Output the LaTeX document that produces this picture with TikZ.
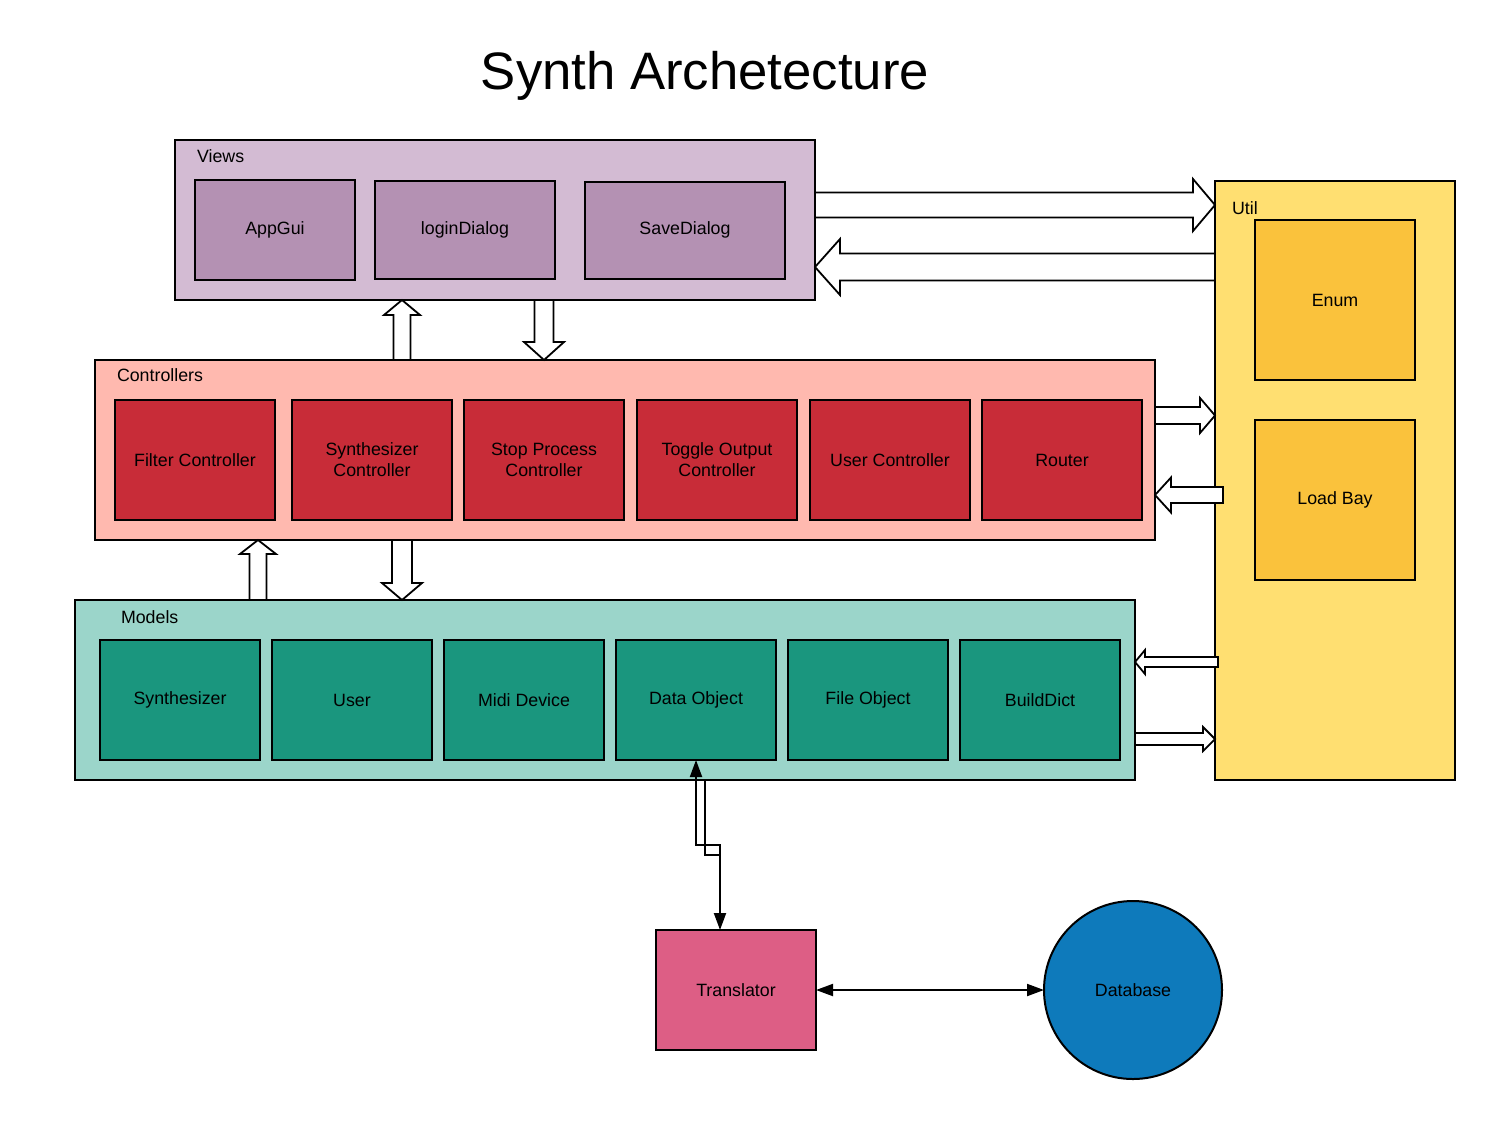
\documentclass[tikz,border=0pt]{standalone}
\usepackage{fontspec}
\setmainfont{Liberation Sans}
\usetikzlibrary{arrows.meta,positioning,calc}

\definecolor{viewsbg}{HTML}{D3BBD3}
\definecolor{viewsfg}{HTML}{B491B3}
\definecolor{ctrlbg}{HTML}{FFB9AF}
\definecolor{ctrlfg}{HTML}{C82C38}
\definecolor{modelbg}{HTML}{9BD5CA}
\definecolor{modelfg}{HTML}{1A967E}
\definecolor{utilbg}{HTML}{FFDF71}
\definecolor{utilfg}{HTML}{FAC23C}
\definecolor{transfg}{HTML}{DD5E85}
\definecolor{dbfg}{HTML}{0E7ABB}

% hollow block arrow: tail, tip, shaft half width, head half width, head length
\newcommand{\fatarrow}[5]{%
  \coordinate (fa-tail) at (#1);
  \coordinate (fa-tip)  at (#2);
  \coordinate (fa-head) at ($(fa-tip)!#5!(fa-tail)$);
  \draw[fat] ($(fa-tail)!#3!90:(fa-tip)$) -- ($(fa-head)!#3!90:(fa-tip)$)
             -- ($(fa-head)!#4!90:(fa-tip)$) -- (fa-tip)
             -- ($(fa-head)!#4!-90:(fa-tip)$) -- ($(fa-head)!#3!-90:(fa-tip)$)
             -- ($(fa-tail)!#3!-90:(fa-tip)$) -- cycle;
}

\begin{document}
\begin{tikzpicture}[x=1pt,y=-1pt,>={Triangle[length=17pt,width=12pt]},
    font=\fontsize{17.8}{21}\selectfont,
    group/.style={draw,line width=2pt,inner sep=0pt,outer sep=0pt},
    box/.style={draw,line width=2pt,inner sep=0pt,outer sep=0pt,align=center,
                minimum width=160pt,minimum height=120pt},
    lbl/.style={inner sep=0pt,outer sep=0pt},
    fat/.style={draw,fill=white,line width=1.8pt,line join=miter},
    link/.style={line width=2pt}]

    \useasboundingbox (0,0) rectangle (1495,1120);

    \node[font=\fontsize{52.7}{60}\selectfont] (title) at (705,76) {Synth Archetecture};

    % groups
    \node[group,fill=viewsbg,minimum width=640pt,minimum height=160pt]  (views)  at (495,220)   {};
    \node[group,fill=ctrlbg,minimum width=1060pt,minimum height=180pt]  (ctrls)  at (625,450)   {};
    \node[group,fill=modelbg,minimum width=1060pt,minimum height=180pt] (models) at (605,690)   {};
    \node[group,fill=utilbg,minimum width=240pt,minimum height=599pt]   (util)   at (1335,480.5) {};

    \node[lbl,below right=10pt and 22pt of views.north west]   (viewslbl)  {Views};
    \node[lbl,below right=9pt and 22pt of ctrls.north west]    (ctrlslbl)  {Controllers};
    \node[lbl,below right=10.5pt and 46pt of models.north west] (modelslbl) {Models};
    \node[lbl,below right=20.5pt and 17pt of util.north west]  (utillbl)   {Util};

    % views
    \node[box,fill=viewsfg,minimum height=100pt,below right=40pt and 20pt of views.north west] (appgui) {AppGui};
    \node[box,fill=viewsfg,minimum width=180pt,minimum height=98pt,right=20pt of appgui]    (logindlg) {loginDialog};
    \node[box,fill=viewsfg,minimum width=200pt,minimum height=97pt,right=30pt of logindlg]  (savedlg)  {SaveDialog};

    % controllers
    \node[box,fill=ctrlfg,below right=40pt and 20pt of ctrls.north west] (filterc) {Filter Controller};
    \node[box,fill=ctrlfg,right=17pt of filterc] (synthc)  {Synthesizer\\Controller};
    \node[box,fill=ctrlfg,right=12pt of synthc]  (stopc)   {Stop Process\\Controller};
    \node[box,fill=ctrlfg,right=13pt of stopc]   (togglec) {Toggle Output\\Controller};
    \node[box,fill=ctrlfg,right=13pt of togglec] (userc)   {User Controller};
    \node[box,fill=ctrlfg,right=12pt of userc]   (router)  {Router};

    % models
    \node[box,fill=modelfg,below right=40pt and 25pt of models.north west] (synth) {Synthesizer};
    \node[box,fill=modelfg,right=12pt of synth]   (user)      {User};
    \node[box,fill=modelfg,right=12pt of user]    (mididev)   {Midi Device};
    \node[box,fill=modelfg,right=12pt of mididev] (dataobj)   {Data Object};
    \node[box,fill=modelfg,right=12pt of dataobj] (fileobj)   {File Object};
    \node[box,fill=modelfg,right=12pt of fileobj] (builddict) {BuildDict};

    % util
    \node[box,fill=utilfg,minimum height=160pt,below right=39pt and 40pt of util.north west] (enum) {Enum};
    \node[box,fill=utilfg,minimum height=160pt,below=40pt of enum] (loadbay) {Load Bay};

    % storage
    \node[box,fill=transfg] (trans) at (736,990) {Translator};
    \node[draw,line width=2pt,circle,fill=dbfg,minimum size=178pt,inner sep=0pt,outer sep=0pt] (db) at (1133,990) {Database};

    % block arrows
    \coordinate (vu) at ([yshift=15pt]views.east);
    \fatarrow{vu}{vu -| util.west}{12.5pt}{26pt}{22pt}
    \coordinate (uv) at ([yshift=-47pt]views.east);
    \fatarrow{uv -| util.west}{uv}{13.5pt}{28pt}{25pt}

    \coordinate (cv) at ([xshift=-93pt]views.south);
    \fatarrow{cv |- ctrls.north}{cv}{8.5pt}{18pt}{15pt}
    \coordinate (vc) at ([xshift=49pt]views.south);
    \fatarrow{vc}{vc |- ctrls.north}{9.5pt}{20pt}{18pt}

    \coordinate (mc) at ([xshift=-367pt]ctrls.south);
    \fatarrow{mc |- models.north}{mc}{8.5pt}{18pt}{14pt}
    \coordinate (cm) at ([xshift=-223pt]ctrls.south);
    \fatarrow{cm}{cm |- models.north}{10pt}{20pt}{17pt}

    \coordinate (cu) at ([yshift=34.5pt]ctrls.east);
    \fatarrow{cu}{cu -| util.west}{8.5pt}{17.5pt}{15pt}
    \coordinate (uc) at ([yshift=-45pt]ctrls.east);
    \fatarrow{$(uc -| util.west)+(8,0)$}{uc}{8pt}{17.5pt}{16pt}

    \coordinate (um) at ([yshift=28pt]models.east);
    \fatarrow{$(um -| util.west)+(3,0)$}{um}{5pt}{12pt}{10pt}
    \coordinate (mu) at ([yshift=-49pt]models.east);
    \fatarrow{mu}{mu -| util.west}{6pt}{12pt}{12pt}

    % links
    \draw[link,<->] (dataobj.south) -- ++(0,85) -| ([xshift=-16pt]trans.north);
    \draw[link] ([xshift=9pt]dataobj.south |- models.south) -- ++(0,75) -- ++(15,0);
    \draw[link,<->] (trans) -- (db);
\end{tikzpicture}
\end{document}
